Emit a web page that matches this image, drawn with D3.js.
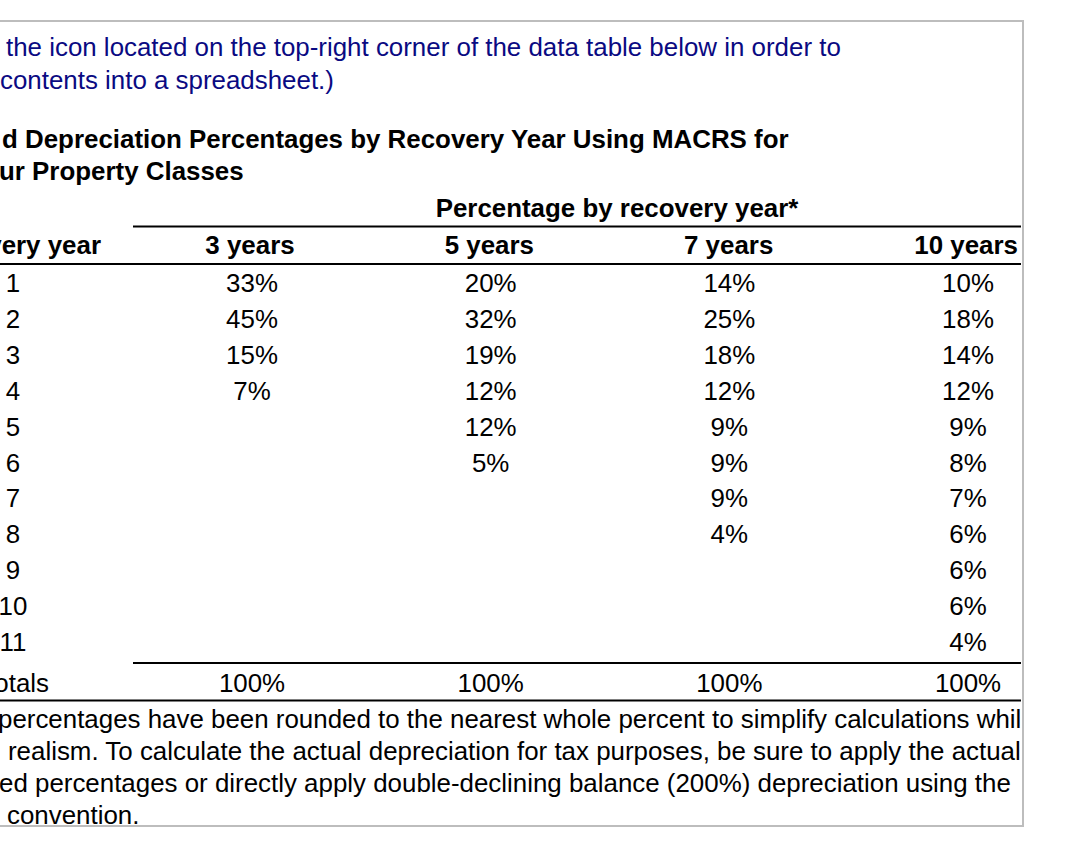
<!DOCTYPE html>
<html>
<head>
<meta charset="utf-8">
<script src="https://cdn.jsdelivr.net/npm/d3@7"></script>
<style>
  html, body { margin: 0; padding: 0; background: #fff; }
  svg { display: block; }
  text { font-family: "Liberation Sans", Arial, Helvetica, sans-serif; }
</style>
</head>
<body>
<svg id="chart" width="1086" height="864"></svg>
<script>
// ---- data ----
const introLines = [
  "the icon located on the top-right corner of the data table below in order to",
  "contents into a spreadsheet.)"
];
const titleLines = [
  "d Depreciation Percentages by Recovery Year Using MACRS for",
  "ur Property Classes"
];
const groupHeader = "Percentage by recovery year*";
const yearHeader = "Recovery year";
const classes = ["3 years", "5 years", "7 years", "10 years"];
const recoveryYears = [1, 2, 3, 4, 5, 6, 7, 8, 9, 10, 11];
const pct3 = [33, 45, 15, 7];
const pct5 = [20, 32, 19, 12, 12, 5];
const pct7 = [14, 25, 18, 12, 9, 9, 9, 4];
const pct10 = [10, 18, 14, 12, 9, 8, 7, 6, 6, 6, 4];
const totalsLabel = "Totals";
const totals = [100, 100, 100, 100];
const footnoteLines = [
  "percentages have been rounded to the nearest whole percent to simplify calculations while",
  "realism. To calculate the actual depreciation for tax purposes, be sure to apply the actual",
  "ed percentages or directly apply double-declining balance (200%) depreciation using the",
  "convention."
];

const series = [pct3, pct5, pct7, pct10];

// ---- layout ----
const svg = d3.select("#chart");
const FS = 25.9;
const boxRight = 1023, boxTop = 21, boxBottom = 826;
const lineRight = 1021;

svg.append("defs").append("clipPath").attr("id", "clip")
  .append("rect").attr("x", -10).attr("y", 0).attr("width", lineRight + 10).attr("height", 864);

// frame
svg.append("path")
  .attr("d", `M0,${boxTop}H${boxRight}V${boxBottom}H0`)
  .attr("fill", "none").attr("stroke", "#bdbdbd").attr("stroke-width", 2);

const g = svg.append("g").attr("clip-path", "url(#clip)");

// intro (blue)
g.selectAll("text.intro").data(introLines).join("text")
  .attr("class", "intro")
  .attr("x", (d, i) => i === 0 ? 6 : 0)
  .attr("y", (d, i) => 56 + i * 33)
  .attr("font-size", FS).attr("fill", "#0a0a82")
  .text(d => d);

// title (bold)
g.selectAll("text.title").data(titleLines).join("text")
  .attr("class", "title")
  .attr("x", (d, i) => i === 0 ? 2 : -1)
  .attr("y", (d, i) => 148 + i * 32)
  .attr("font-size", FS).attr("font-weight", "bold").attr("fill", "#000")
  .text(d => d);

// scales
const x = d3.scalePoint().domain(classes).range([250, 968]);
const valueX = d3.scalePoint().domain(classes).range([252, 968]);
const y = d3.scalePoint().domain(recoveryYears).range([292, 292 + 35.9 * 10]);

// group header + rules
g.append("text").attr("x", 617).attr("y", 217)
  .attr("text-anchor", "middle").attr("font-size", FS).attr("font-weight", "bold")
  .text(groupHeader);
g.append("line").attr("x1", 133).attr("x2", lineRight).attr("y1", 226.5).attr("y2", 226.5)
  .attr("stroke", "#000").attr("stroke-width", 2);

// column headers
g.append("text").attr("x", 101).attr("y", 254).attr("text-anchor", "end")
  .attr("font-size", FS).attr("font-weight", "bold").text(yearHeader);
g.selectAll("text.colh").data(classes).join("text")
  .attr("class", "colh")
  .attr("x", d => d === "10 years" ? 1018 : x(d))
  .attr("y", 254)
  .attr("text-anchor", d => d === "10 years" ? "end" : "middle")
  .attr("font-size", FS).attr("font-weight", "bold")
  .text(d => d);
g.append("line").attr("x1", 0).attr("x2", lineRight).attr("y1", 264).attr("y2", 264)
  .attr("stroke", "#000").attr("stroke-width", 2);

// year labels
g.selectAll("text.yr").data(recoveryYears).join("text")
  .attr("class", "yr")
  .attr("x", 13).attr("y", d => y(d))
  .attr("text-anchor", "middle").attr("font-size", FS)
  .text(d => d);

// values
classes.forEach((c, ci) => {
  g.selectAll(null).data(series[ci]).join("text")
    .attr("x", valueX(c))
    .attr("y", (d, i) => y(recoveryYears[i]))
    .attr("text-anchor", "middle").attr("font-size", FS)
    .text(d => d + "%");
});

// totals
g.append("line").attr("x1", 133).attr("x2", lineRight).attr("y1", 663).attr("y2", 663)
  .attr("stroke", "#000").attr("stroke-width", 2);
g.append("text").attr("x", 49).attr("y", 692).attr("text-anchor", "end")
  .attr("font-size", FS).text(totalsLabel);
g.selectAll("text.tot").data(totals).join("text")
  .attr("class", "tot")
  .attr("x", (d, i) => valueX(classes[i]))
  .attr("y", 692)
  .attr("text-anchor", "middle").attr("font-size", FS)
  .text(d => d + "%");
g.append("line").attr("x1", 0).attr("x2", lineRight).attr("y1", 700.5).attr("y2", 700.5)
  .attr("stroke", "#000").attr("stroke-width", 2);

// footnote
const fnX = [-2, 8, -1, 7];
g.selectAll("text.fn").data(footnoteLines).join("text")
  .attr("class", "fn")
  .attr("x", (d, i) => fnX[i])
  .attr("y", (d, i) => 728 + i * 32)
  .attr("font-size", FS)
  .text(d => d);
</script>
</body>
</html>
